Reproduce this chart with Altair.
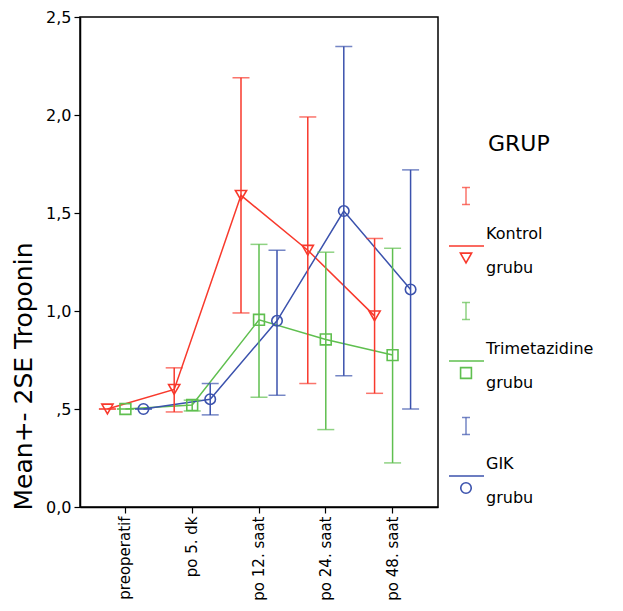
import altair as alt
import pandas as pd

times = ["preoperatif", "po 5. dk", "po 12. saat", "po 24. saat", "po 48. saat"]
groups = ["Kontrol grubu", "Trimetazidine grubu", "GIK grubu"]

kontrol_mean = [0.50, 0.60, 1.59, 1.31, 0.975]
kontrol_lo = [0.50, 0.485, 0.99, 0.63, 0.58]
kontrol_hi = [0.50, 0.71, 2.19, 1.99, 1.37]

trim_mean = [0.50, 0.52, 0.955, 0.855, 0.775]
trim_lo = [0.50, 0.49, 0.56, 0.395, 0.225]
trim_hi = [0.50, 0.545, 1.34, 1.30, 1.32]

gik_mean = [0.50, 0.55, 0.95, 1.51, 1.11]
gik_lo = [0.50, 0.47, 0.57, 0.67, 0.50]
gik_hi = [0.50, 0.63, 1.31, 2.35, 1.72]

colors = ["#f8392c", "#5fbf4f", "#3b52ad"]
shapes = ["triangle-down", "square", "circle"]
sizes = [125, 110, 200]

rows = []
for g, ms, ls, hs in zip(groups, [kontrol_mean, trim_mean, gik_mean],
                         [kontrol_lo, trim_lo, gik_lo], [kontrol_hi, trim_hi, gik_hi]):
    for t, m, lo, hi in zip(times, ms, ls, hs):
        rows.append({"time": t, "group": g, "mean": m, "lo": lo, "hi": hi})
df = pd.DataFrame(rows)

FONT = "DejaVu Sans"

color = alt.Color("group:N", scale=alt.Scale(domain=groups, range=colors), legend=None)
shape = alt.Shape("group:N", scale=alt.Scale(domain=groups, range=shapes), legend=None)
size = alt.Size("group:O", scale=alt.Scale(domain=groups, range=sizes), legend=None)

x = alt.X("time:N", sort=times, title=None,
          scale=alt.Scale(domain=times, paddingInner=0, paddingOuter=0.18),
          axis=alt.Axis(labelAngle=-90, labelAlign="right", labelBaseline="middle",
                        labelFont=FONT, labelFontSize=15, labelColor="black",
                        labelPadding=3, tickSize=6, tickColor="black", tickWidth=1.2,
                        domainColor="black", domainWidth=1.5, grid=False))
xoff = alt.XOffset("group:N", sort=groups,
                   scale=alt.Scale(domain=groups, paddingInner=0, paddingOuter=0.355))
yaxis = alt.Axis(values=[0, 0.5, 1, 1.5, 2, 2.5],
                 labelExpr="datum.value == 0.5 ? ',5' : replace(format(datum.value, '.1f'), '.', ',')",
                 labelFont=FONT, labelFontSize=16, labelColor="black", labelPadding=3,
                 tickSize=6, tickColor="black", tickWidth=1.2,
                 domainColor="black", domainWidth=1.5, grid=False,
                 title="Mean+- 2SE Troponin", titleFont=FONT, titleFontSize=25,
                 titleFontWeight="normal", titleColor="black",
                 titleAngle=-90, titleAlign="center", titleBaseline="middle",
                 titleX=-57, titleY=359)
yscale = alt.Scale(domain=[0, 2.5], nice=False, zero=True)

base = alt.Chart(df)

lines = base.mark_line(strokeWidth=1.5).encode(
    x=x, xOffset=xoff, y=alt.Y("mean:Q", scale=yscale, axis=yaxis), color=color)
bars = base.mark_rule(strokeWidth=1.5).encode(
    x=x, xOffset=xoff, y=alt.Y("lo:Q", scale=yscale), y2="hi:Q", color=color)
cap_hi = base.mark_tick(size=17, thickness=1.5, orient="horizontal").encode(
    x=x, xOffset=xoff, y=alt.Y("hi:Q", scale=yscale), color=color)
cap_lo = base.mark_tick(size=17, thickness=1.5, orient="horizontal").encode(
    x=x, xOffset=xoff, y=alt.Y("lo:Q", scale=yscale), color=color)
points = base.mark_point(filled=False, strokeWidth=1.6, opacity=1).encode(
    x=x, xOffset=xoff, y=alt.Y("mean:Q", scale=yscale), color=color, shape=shape, size=size)

main = alt.layer(lines, bars, cap_hi, cap_lo, points).properties(width=358, height=490)

# legend panel
leg_df = pd.DataFrame({"group": groups})
ly = alt.Y("group:N", sort=groups, axis=None,
           scale=alt.Scale(type="point", domain=groups, range=[179, 409], padding=0))
lbase = alt.Chart(leg_df).transform_calculate(first="split(datum.group, ' ')[0]",
                                              second="split(datum.group, ' ')[1]")
ibar = lbase.mark_tick(orient="vertical", size=17, thickness=1.5).encode(
    x=alt.value(17), y=ly, color=color)
icap1 = lbase.mark_tick(orient="horizontal", size=8, thickness=1.5, yOffset=-8.5).encode(
    x=alt.value(17), y=ly, color=color)
icap2 = lbase.mark_tick(orient="horizontal", size=8, thickness=1.5, yOffset=8.5).encode(
    x=alt.value(17), y=ly, color=color)
lline = lbase.mark_rule(strokeWidth=1.5, yOffset=50).encode(
    x=alt.value(0), x2=alt.value(35), y=ly, color=color)
lpoint = lbase.mark_point(filled=False, strokeWidth=1.6, opacity=1, yOffset=62).encode(
    x=alt.value(17), y=ly, color=color, shape=shape, size=size)
ltext1 = lbase.mark_text(align="left", baseline="middle", font=FONT, fontSize=16,
                         color="black", dy=38).encode(x=alt.value(37), y=ly, text="first:N")
ltext2 = lbase.mark_text(align="left", baseline="middle", font=FONT, fontSize=16,
                         color="black", dy=72).encode(x=alt.value(37), y=ly, text="second:N")
ltitle = alt.Chart(pd.DataFrame({"t": ["GRUP"]})).mark_text(
    align="left", baseline="middle", font=FONT, fontSize=22, color="black").encode(
    x=alt.value(39), y=alt.value(127), text="t:N")

legend = alt.layer(ibar, icap1, icap2, lline, lpoint, ltext1, ltext2, ltitle).properties(
    width=165, height=490, view=alt.ViewConfig(stroke=None))

chart = alt.hconcat(main, legend, spacing=9).resolve_scale(
    x="independent", y="independent").properties(
    padding={"left": 2, "top": 0, "right": 0, "bottom": 0}
).configure_view(stroke="black", strokeWidth=1.5)

chart.save("out.html", embed_options={"renderer": "svg", "actions": False})
